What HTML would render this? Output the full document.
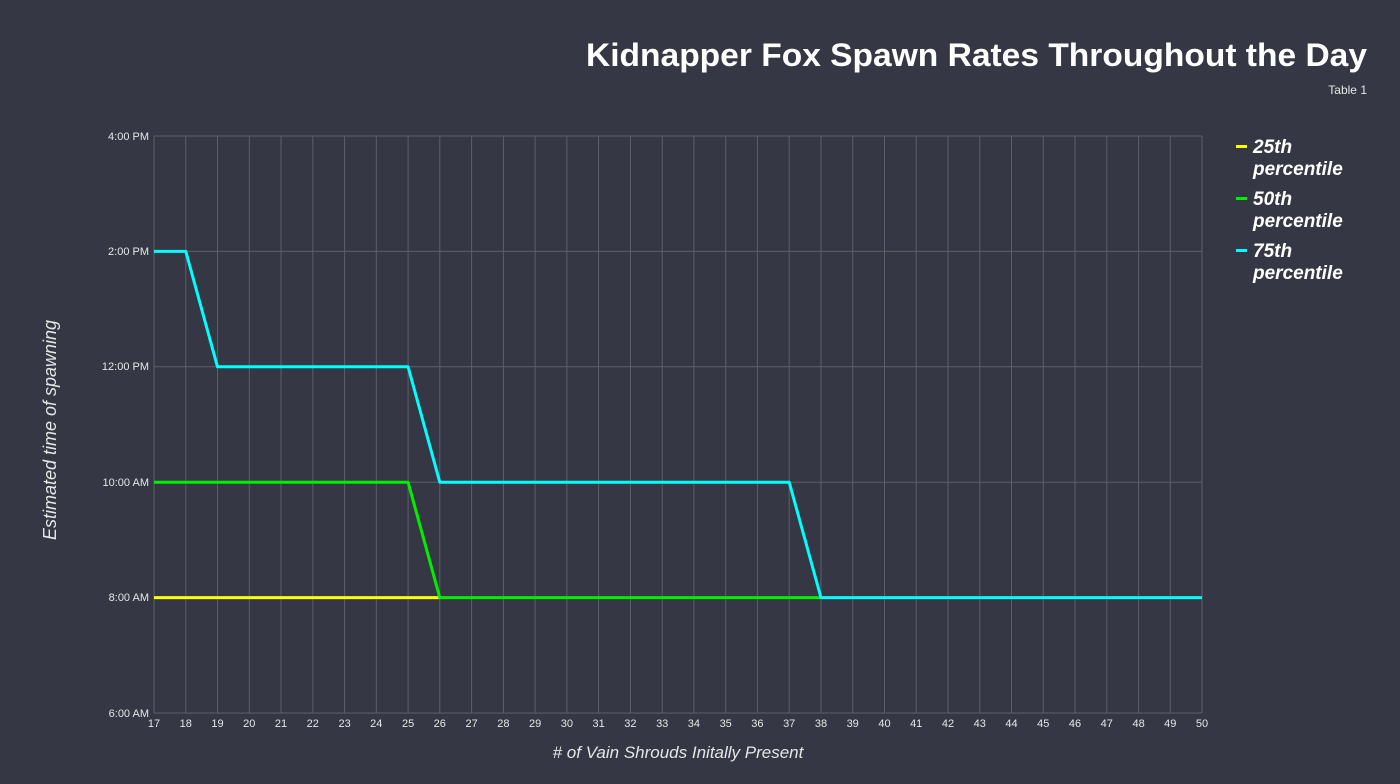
<!DOCTYPE html>
<html><head><meta charset="utf-8"><style>
html,body{margin:0;padding:0;background:#353844;}
svg{display:block;font-family:"Liberation Sans",sans-serif;}
</style></head><body>
<svg width="1400" height="784" viewBox="0 0 1400 784" xmlns="http://www.w3.org/2000/svg">
<rect width="1400" height="784" fill="#353844"/>
<text x="586" y="66" textLength="781" lengthAdjust="spacingAndGlyphs" fill="#fff" font-size="32" font-weight="bold">Kidnapper Fox Spawn Rates Throughout the Day</text>
<text x="1367" y="94" text-anchor="end" fill="#e6e6e6" font-size="12">Table 1</text>
<g stroke="#5d5f69" stroke-width="1">
<line x1="154" y1="136" x2="1202" y2="136"/><line x1="154" y1="251.4" x2="1202" y2="251.4"/><line x1="154" y1="366.8" x2="1202" y2="366.8"/><line x1="154" y1="482.2" x2="1202" y2="482.2"/><line x1="154" y1="597.6" x2="1202" y2="597.6"/><line x1="154" y1="713" x2="1202" y2="713"/>
<line x1="154" y1="136" x2="154" y2="713"/><line x1="185.8" y1="136" x2="185.8" y2="713"/><line x1="217.5" y1="136" x2="217.5" y2="713"/><line x1="249.3" y1="136" x2="249.3" y2="713"/><line x1="281" y1="136" x2="281" y2="713"/><line x1="312.8" y1="136" x2="312.8" y2="713"/><line x1="344.6" y1="136" x2="344.6" y2="713"/><line x1="376.3" y1="136" x2="376.3" y2="713"/><line x1="408.1" y1="136" x2="408.1" y2="713"/><line x1="439.8" y1="136" x2="439.8" y2="713"/><line x1="471.6" y1="136" x2="471.6" y2="713"/><line x1="503.4" y1="136" x2="503.4" y2="713"/><line x1="535.1" y1="136" x2="535.1" y2="713"/><line x1="566.9" y1="136" x2="566.9" y2="713"/><line x1="598.6" y1="136" x2="598.6" y2="713"/><line x1="630.4" y1="136" x2="630.4" y2="713"/><line x1="662.2" y1="136" x2="662.2" y2="713"/><line x1="693.9" y1="136" x2="693.9" y2="713"/><line x1="725.7" y1="136" x2="725.7" y2="713"/><line x1="757.4" y1="136" x2="757.4" y2="713"/><line x1="789.2" y1="136" x2="789.2" y2="713"/><line x1="821" y1="136" x2="821" y2="713"/><line x1="852.7" y1="136" x2="852.7" y2="713"/><line x1="884.5" y1="136" x2="884.5" y2="713"/><line x1="916.2" y1="136" x2="916.2" y2="713"/><line x1="948" y1="136" x2="948" y2="713"/><line x1="979.8" y1="136" x2="979.8" y2="713"/><line x1="1011.5" y1="136" x2="1011.5" y2="713"/><line x1="1043.3" y1="136" x2="1043.3" y2="713"/><line x1="1075" y1="136" x2="1075" y2="713"/><line x1="1106.8" y1="136" x2="1106.8" y2="713"/><line x1="1138.6" y1="136" x2="1138.6" y2="713"/><line x1="1170.3" y1="136" x2="1170.3" y2="713"/><line x1="1202" y1="136" x2="1202" y2="713"/>
</g>
<g fill="#e6e6e6" font-size="11" text-anchor="end">
<text x="149" y="140">4:00 PM</text><text x="149" y="255">2:00 PM</text><text x="149" y="370">12:00 PM</text><text x="149" y="486">10:00 AM</text><text x="149" y="601">8:00 AM</text><text x="149" y="717">6:00 AM</text>
</g>
<g fill="#e6e6e6" font-size="11" text-anchor="middle">
<text x="154" y="727">17</text><text x="185.8" y="727">18</text><text x="217.5" y="727">19</text><text x="249.3" y="727">20</text><text x="281" y="727">21</text><text x="312.8" y="727">22</text><text x="344.6" y="727">23</text><text x="376.3" y="727">24</text><text x="408.1" y="727">25</text><text x="439.8" y="727">26</text><text x="471.6" y="727">27</text><text x="503.4" y="727">28</text><text x="535.1" y="727">29</text><text x="566.9" y="727">30</text><text x="598.6" y="727">31</text><text x="630.4" y="727">32</text><text x="662.2" y="727">33</text><text x="693.9" y="727">34</text><text x="725.7" y="727">35</text><text x="757.4" y="727">36</text><text x="789.2" y="727">37</text><text x="821" y="727">38</text><text x="852.7" y="727">39</text><text x="884.5" y="727">40</text><text x="916.2" y="727">41</text><text x="948" y="727">42</text><text x="979.8" y="727">43</text><text x="1011.5" y="727">44</text><text x="1043.3" y="727">45</text><text x="1075" y="727">46</text><text x="1106.8" y="727">47</text><text x="1138.6" y="727">48</text><text x="1170.3" y="727">49</text><text x="1202" y="727">50</text>
</g>
<text x="678" y="758" text-anchor="middle" fill="#e6e6e6" font-size="17" font-style="italic"># of Vain Shrouds Initally Present</text>
<text transform="translate(56,430) rotate(-90)" text-anchor="middle" fill="#e6e6e6" font-size="18" font-style="italic">Estimated time of spawning</text>
<g fill="none" stroke-width="3" stroke-linejoin="round">
<polyline stroke="#ffff00" points="154,597.6 439.8,597.6"/>
<polyline stroke="#00ee00" points="154,482.2 408.1,482.2 439.8,597.6 821,597.6"/>
<polyline stroke="#00ffff" points="154,251.4 185.8,251.4 217.5,366.8 408.1,366.8 439.8,482.2 789.2,482.2 821,597.6 1202,597.6"/>
</g>
<g font-size="19" font-weight="bold" font-style="italic" fill="#fff">
<rect x="1236" y="145" width="11" height="3" fill="#ffff00"/>
<text x="1253" y="153">25th</text><text x="1253" y="175">percentile</text>
<rect x="1236" y="197" width="11" height="3" fill="#00ee00"/>
<text x="1253" y="205">50th</text><text x="1253" y="227">percentile</text>
<rect x="1236" y="249" width="11" height="3" fill="#00ffff"/>
<text x="1253" y="257">75th</text><text x="1253" y="279">percentile</text>
</g>
</svg>
</body></html>
